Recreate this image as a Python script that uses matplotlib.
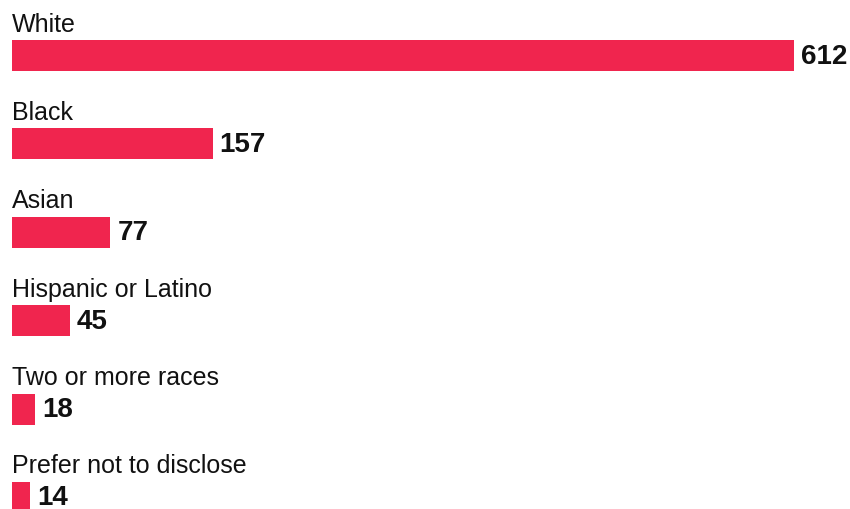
import matplotlib
matplotlib.use("Agg")
import matplotlib.pyplot as plt

categories = ["White", "Black", "Asian", "Hispanic or Latino",
              "Two or more races", "Prefer not to disclose"]
counts = [612, 157, 77, 45, 18, 14]

W, H, DPI = 850, 510, 100
BAR_COLOR = "#F0254E"
ROW_STEP = 88.4      # vertical pitch between rows, px
FIRST_CENTER = 56.5  # centre of the first bar, px from top
BAR_H = 31           # bar thickness, px

plt.rcParams["font.family"] = ["Liberation Sans", "DejaVu Sans"]

fig = plt.figure(figsize=(W / DPI, H / DPI), dpi=DPI)
left_px, right_px = 12, 794
ax = fig.add_axes([left_px / W, 0, (right_px - left_px) / W, 1])
ax.set_xlim(0, max(counts))
ax.set_ylim(H, 0)
ax.axis("off")

centers = [FIRST_CENTER + ROW_STEP * i for i in range(len(categories))]
ax.barh(centers, counts, height=BAR_H, color=BAR_COLOR, left=0)

for name, val, c in zip(categories, counts, centers):
    ax.text(0, c - 25, name, fontsize=18, color="#111111",
            ha="left", va="baseline")
    ax.annotate(str(val), xy=(val, c), xytext=(5, 0),
                textcoords="offset points", fontsize=20, fontweight="bold",
                color="#111111", ha="left", va="center")

fig.savefig("out.png", dpi=DPI)
